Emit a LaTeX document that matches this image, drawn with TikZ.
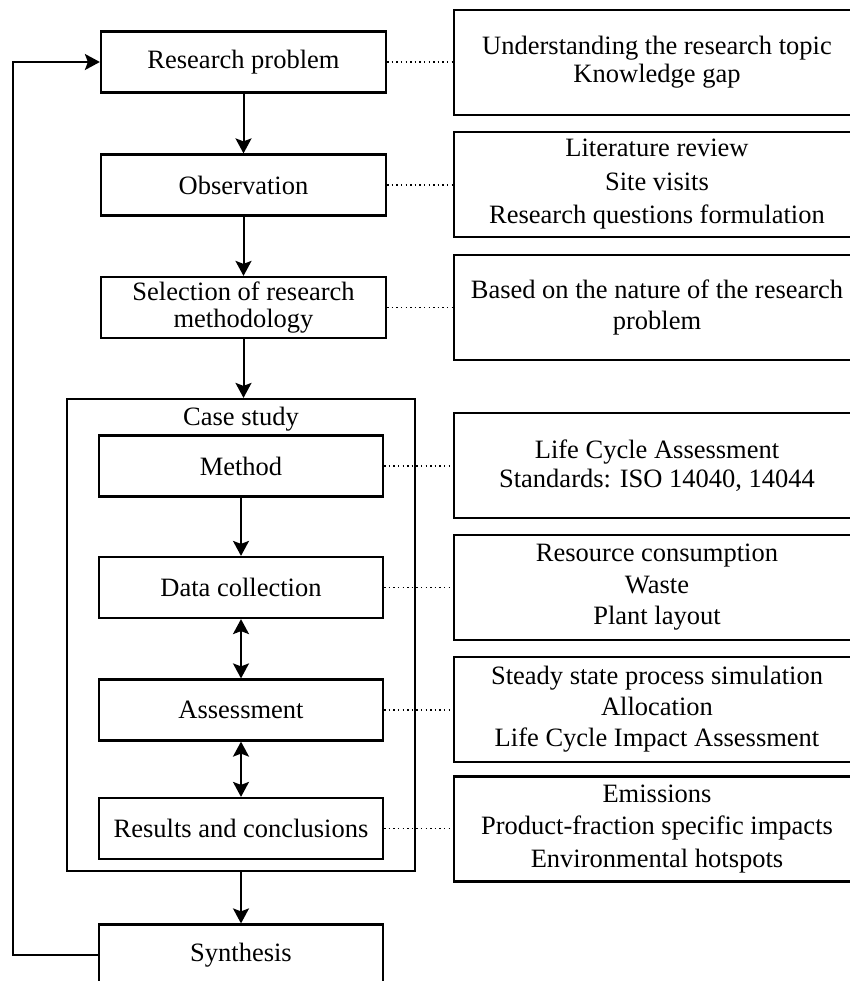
\documentclass[tikz,border=0pt]{standalone}
\usepackage{fontspec}
\setmainfont{Liberation Serif}
\usetikzlibrary{arrows.meta}
\begin{document}
\begin{tikzpicture}[x=1pt,y=-1pt,
  lbox/.style={draw,line width=2.2pt,inner sep=0pt,minimum height=61pt,align=center,
    font=\fontsize{26.5}{27}\selectfont},
  rbox/.style={draw,line width=2.2pt,inner sep=0pt,minimum width=406pt,minimum height=105pt,align=center},
  arr/.style={line width=2pt,-{Stealth[length=15pt,width=16pt,inset=3pt]}},
  darr/.style={line width=2pt,{Stealth[length=15pt,width=16pt,inset=3pt]}-{Stealth[length=15pt,width=16pt,inset=3pt]}},
  dots/.style={line width=1.1pt,dash pattern=on 1.4pt off 3.2pt}
]
\useasboundingbox (0,0) rectangle (850,981);
% left column
\node[lbox,minimum width=285pt] (rp) at (243.5,62) {Research problem};
\node[lbox,minimum width=285pt] (obs) at (243.5,185) {Observation};
\node[lbox,minimum width=285pt] (sel) at (243.5,307.5) {Selection of research\\methodology};
\node[draw,line width=2.2pt,inner sep=0pt,minimum width=348pt,minimum height=472pt] (cs) at (241,635) {};
\node[font=\fontsize{26.5}{27}\selectfont] (cslab) at (241,419) {Case study};
\node[lbox,minimum width=284pt] (met) at (241,466) {Method};
\node[lbox,minimum width=284pt] (dat) at (241,587.5) {Data collection};
\node[lbox,minimum width=284pt] (ass) at (241,710) {Assessment};
\node[lbox,minimum width=284pt] (res) at (241,828.5) {Results and conclusions};
\node[lbox,minimum width=284pt] (syn) at (241,955) {Synthesis};
% right column
\node[rbox,font=\fontsize{26.5}{28}\selectfont] (r1) at (657,62.5) {Understanding the research topic\\Knowledge gap};
\node[rbox,font=\fontsize{26.5}{33.5}\selectfont] (r2) at (657,184.5) {Literature review\\Site visits\\Research questions formulation};
\node[rbox,font=\fontsize{26.5}{31}\selectfont] (r3) at (657,307.5) {Based on the nature of the research\\problem};
\node[rbox,font=\fontsize{26.5}{29}\selectfont] (r4) at (657,465.5) {Life Cycle Assessment\\Standards: ISO 14040, 14044};
\node[rbox,font=\fontsize{26.5}{31.5}\selectfont] (r5) at (657,587.5) {Resource consumption\\Waste\\Plant layout};
\node[rbox,font=\fontsize{26.5}{31}\selectfont] (r6) at (657,709.5) {Steady state process simulation\\Allocation\\Life Cycle Impact Assessment};
\node[rbox,font=\fontsize{26.5}{32.5}\selectfont] (r7) at (657,829) {Emissions\\Product-fraction specific impacts\\Environmental hotspots};
% arrows
\draw[arr] (rp.south) -- (obs.north);
\draw[arr] (obs.south) -- (sel.north);
\draw[arr] (sel.south) -- (sel.south |- cs.north);
\draw[arr] (met.south) -- (dat.north);
\draw[darr] (dat.south) -- (ass.north);
\draw[darr] (ass.south) -- (res.north);
\draw[arr] (cs.south) -- (syn.north);
\coordinate (lp) at (13,955);
\draw[arr] (syn.west) -- (lp) |- (rp.west);
% dotted links
\draw[dots] (rp.east) -- (rp.east -| r1.west);
\draw[dots] (obs.east) -- (obs.east -| r2.west);
\draw[dots] (sel.east) -- (sel.east -| r3.west);
\draw[dots] (met.east) -- (met.east -| r4.west);
\draw[dots] (dat.east) -- (dat.east -| r5.west);
\draw[dots] (ass.east) -- (ass.east -| r6.west);
\draw[dots] (res.east) -- (res.east -| r7.west);
\end{tikzpicture}
\end{document}
